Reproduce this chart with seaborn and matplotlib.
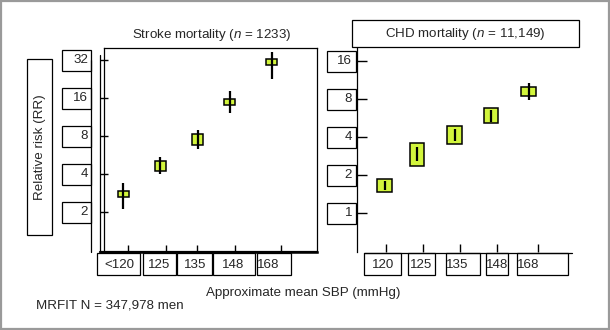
import numpy as np
import matplotlib
matplotlib.use("Agg")
import matplotlib.pyplot as plt
import seaborn as sns
from matplotlib.patches import Rectangle
from matplotlib.lines import Line2D
from matplotlib.ticker import NullLocator

# ---------------- data ----------------
stroke_labels = ["<120", "125", "135", "148", "168"]
chd_labels = ["120", "125", "135", "148", "168"]

stroke_box_lo = [2.64, 4.25, 6.79, 14.1, 29.2]
stroke_box_hi = [2.95, 5.07, 8.30, 15.6, 32.4]
stroke_ci_lo = [2.11, 4.0, 6.3, 12.1, 22.6]
stroke_ci_hi = [3.39, 5.45, 8.9, 18.1, 37.0]

chd_box_lo = [1.46, 2.37, 3.52, 5.19, 8.45]
chd_box_hi = [1.86, 3.57, 4.89, 6.75, 10.0]
chd_ci_lo = [1.52, 2.58, 3.72, 5.26, 7.85]
chd_ci_hi = [1.80, 3.31, 4.63, 6.54, 10.7]

stroke_yticks = [2, 4, 8, 16, 32]
chd_yticks = [1, 2, 4, 8, 16]

stroke_title = "Stroke mortality ($n$ = 1233)"
chd_title = "CHD mortality ($n$ = 11,149)"
y_title = "Relative risk (RR)"
x_title = "Approximate mean SBP (mmHg)"
note = "MRFIT N = 347,978 men"

# ---------------- layout (pixels) ----------------
W, H = 610, 330
L_TICK_X = [24, 62, 93, 131, 177]
L_MARK_X = [19, 56, 93.5, 125.5, 167.5]
R_TICK_X = [29, 66, 103, 140, 181]
R_MARK_X = [27.7, 60, 97.5, 134, 171.7]
L_XBOX = [(97, 140), (143, 176), (177, 212), (213, 255), (257, 291)]
L_XTXT = [119, 159, 195, 233, 268]
R_XBOX = [(364, 401), (408, 435), (446, 480), (486, 508), (517, 568)]
R_XTXT = [383, 421, 457, 497, 528]

FILL = "#d2f53c"
FS = 9.6

sns.set_theme(style="ticks")
plt.rcParams["font.family"] = ["Liberation Sans", "DejaVu Sans"]
plt.rcParams["mathtext.fontset"] = "custom"
plt.rcParams["mathtext.rm"] = "Liberation Sans"
plt.rcParams["mathtext.it"] = "Liberation Sans:italic"

fig = plt.figure(figsize=(W / 100, H / 100), dpi=100)
fig.patch.set_facecolor("white")


def fx(x):
    return x / W


def fy(y):
    return 1 - y / H


# ---- left panel ----
ax1 = fig.add_axes([fx(104), fy(252), 213 / W, 204 / H])
ax1.set_yscale("log", base=2)
ax1.set_ylim(2 ** (1 - 40 / 38), 2 ** (5 + 12 / 38))
ax1.set_xlim(0, 213)
ax1.bar(L_MARK_X, np.subtract(stroke_box_hi, stroke_box_lo), bottom=stroke_box_lo,
        width=11, color=FILL, edgecolor="black", linewidth=1.1, zorder=2)
ax1.vlines(L_MARK_X, stroke_ci_lo, stroke_ci_hi, color="black", lw=1.6, zorder=3)
ax1.set_yticks(stroke_yticks)
ax1.set_yticklabels([])
ax1.yaxis.set_minor_locator(NullLocator())
ax1.set_xticks(L_TICK_X)
ax1.set_xticklabels([])
ax1.tick_params(axis="y", direction="inout", length=5.8, width=1.0, left=True, color="black")
ax1.tick_params(axis="x", direction="in", length=5.0, width=1.0, bottom=True, color="black")
for s in ax1.spines.values():
    s.set_visible(True)
    s.set_color("black")
    s.set_linewidth(0.9)
ax1.spines["bottom"].set_linewidth(1.8)

# ---- right panel ----
ax2 = fig.add_axes([fx(357), fy(252), 215 / W, 204 / H])
ax2.set_yscale("log", base=2)
ax2.set_ylim(2 ** (-39 / 38), 2 ** (4 + 13 / 38))
ax2.set_xlim(0, 215)
ax2.bar(R_MARK_X, np.subtract(chd_box_hi, chd_box_lo), bottom=chd_box_lo,
        width=14.5, color=FILL, edgecolor="black", linewidth=1.1, zorder=2)
ax2.vlines(R_MARK_X, chd_ci_lo, chd_ci_hi, color="black", lw=1.6, zorder=3)
ax2.set_yticks(chd_yticks)
ax2.set_yticklabels([])
ax2.yaxis.set_minor_locator(NullLocator())
ax2.set_xticks(R_TICK_X)
ax2.set_xticklabels([])
ax2.tick_params(axis="y", direction="in", length=7.2, width=1.0, left=True, color="black")
ax2.tick_params(axis="x", direction="in", length=5.8, width=1.0, bottom=True, color="black")
sns.despine(ax=ax2, top=True, right=True, bottom=True)
ax2.spines["left"].set_color("black")
ax2.spines["left"].set_linewidth(0.9)

# ---- overlay for boxed labels ----
ov = fig.add_axes([0, 0, 1, 1], zorder=10)
ov.set_xlim(0, W)
ov.set_ylim(H, 0)
ov.axis("off")


def box(x0, y0, x1, y1, lw=0.9):
    ov.add_patch(Rectangle((x0, y0), x1 - x0, y1 - y0, fill=True, facecolor="white",
                           edgecolor="black", linewidth=lw))


def line(xs, ys, lw=0.9, color="black"):
    ov.add_line(Line2D(xs, ys, color=color, linewidth=lw))


# outer frame
ov.add_patch(Rectangle((1, 1), W - 2, H - 2, fill=False, edgecolor="#9a9a9a", linewidth=1.6))

# extra vertical lines at left panel
line([91, 91], [60, 252])
line([100, 100], [55, 252])
line([100, 317], [252, 252], lw=1.6)

# y tick boxes
for v in stroke_yticks:
    y = H - ax1.transData.transform((0, v))[1]
    box(62, y - 10.5, 91, y + 10.5)
    ov.text(88, y, str(v), ha="right", va="center", fontsize=FS)
for v in chd_yticks:
    y = H - ax2.transData.transform((0, v))[1]
    box(327, y - 10.5, 356, y + 10.5)
    ov.text(352, y, str(v), ha="right", va="center", fontsize=FS)

# x tick boxes
for (a, b), t, lab in zip(L_XBOX, L_XTXT, stroke_labels):
    box(a, 253, b, 275)
    ov.text(t, 264.5, lab, ha="center", va="center", fontsize=FS)
line([364, 572], [253, 253])
for (a, b), t, lab in zip(R_XBOX, R_XTXT, chd_labels):
    box(a, 253, b, 275)
    ov.text(t, 264.5, lab, ha="center", va="center", fontsize=FS)

# y label box
box(27, 59, 52, 235)
ov.text(40, 147, y_title, rotation=90, ha="center", va="center", fontsize=FS)

# titles
ov.text(212, 35, stroke_title, ha="center", va="center", fontsize=FS)
box(352, 20, 579, 47)
ov.text(465.5, 34, chd_title, ha="center", va="center", fontsize=FS)

ov.text(303.5, 293, x_title, ha="center", va="center", fontsize=FS)
ov.text(36, 305, note, ha="left", va="center", fontsize=FS)

fig.savefig("out.png", dpi=100, facecolor="white")
